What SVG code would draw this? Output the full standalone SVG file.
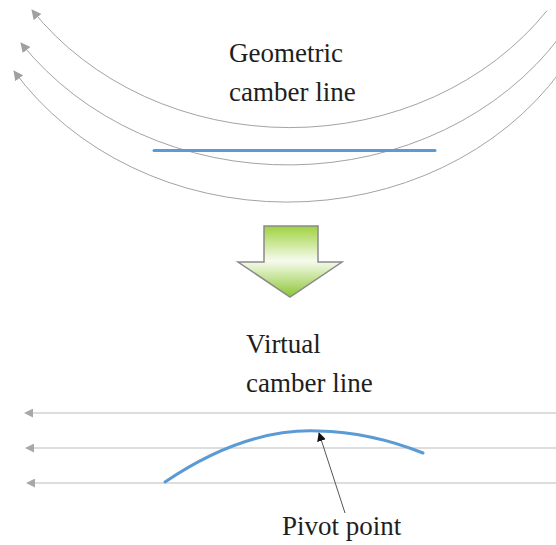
<svg xmlns="http://www.w3.org/2000/svg" width="556" height="545" viewBox="0 0 556 545">
  <style>
    .flow { fill: none; stroke: #a3a3a3; stroke-width: 1; }
    .stream { fill: none; stroke: #d2d2d2; stroke-width: 1.6; }
    .camber { fill: none; stroke: #5b9bd5; stroke-width: 3; stroke-linecap: round; }
    .label { font-size: 27px; fill: #1e1e1e; }
    .leader { fill: none; stroke: #555; stroke-width: 1; }
  </style>
  <defs>
    <marker id="grayHead" viewBox="0 0 10 10" refX="9" refY="5" markerWidth="10" markerHeight="10" markerUnits="userSpaceOnUse" orient="auto">
      <path d="M0,0 L10,5 L0,10 Z" fill="#a0a0a0"/>
    </marker>
    <marker id="lineHead" viewBox="0 0 10 10" refX="9" refY="5" markerWidth="9" markerHeight="9" markerUnits="userSpaceOnUse" orient="auto">
      <path d="M0,0 L10,5 L0,10 Z" fill="#a8a8a8"/>
    </marker>
    <marker id="blackHead" viewBox="0 0 10 10" refX="9" refY="5" markerWidth="9" markerHeight="9" markerUnits="userSpaceOnUse" orient="auto">
      <path d="M0,0 L10,5 L0,10 Z" fill="#111"/>
    </marker>
    <linearGradient id="greenFade" gradientUnits="userSpaceOnUse" x1="0" y1="225" x2="0" y2="297">
      <stop offset="0" stop-color="#9dd13a"/>
      <stop offset="0.5" stop-color="#f7fbee"/>
      <stop offset="1" stop-color="#8cc633"/>
    </linearGradient>
  </defs>

  <!-- curved incoming flow around the geometric camber line -->
  <g id="curved-flow">
    <path class="flow" d="M547,10.6 A315,276.6 0 0 1 32,10" marker-end="url(#grayHead)"/>
    <path class="flow" d="M560,36.6 A326,286 0 0 1 21,43" marker-end="url(#grayHead)"/>
    <path class="flow" d="M560,72 A325,285.5 0 0 1 14,71" marker-end="url(#grayHead)"/>
  </g>

  <g id="geometric-camber">
    <line class="camber" x1="154" y1="150.5" x2="435" y2="150.5" stroke-linecap="butt"/>
  </g>

  <g id="geometric-label" font-family="'Liberation Serif', 'Times New Roman', Times, 'DejaVu Serif', serif">
    <text class="label" x="229" y="62">Geometric</text>
    <text class="label" x="229" y="101">camber line</text>
  </g>

  <!-- transformation arrow -->
  <g id="transform-arrow">
    <path d="M264,226 L318,226 L318,262 L342,262 L290,297 L238,262 L264,262 Z" fill="url(#greenFade)" stroke="#8a8a8a" stroke-width="1.5" stroke-linejoin="miter"/>
  </g>

  <g id="virtual-label" font-family="'Liberation Serif', 'Times New Roman', Times, 'DejaVu Serif', serif">
    <text class="label" x="246" y="353">Virtual</text>
    <text class="label" x="246" y="392">camber line</text>
  </g>

  <!-- straight flow seen by the virtual camber line -->
  <g id="straight-flow">
    <line class="stream" x1="556" y1="413" x2="25" y2="413" marker-end="url(#lineHead)"/>
    <line class="stream" x1="556" y1="448" x2="26" y2="448" marker-end="url(#lineHead)"/>
    <line class="stream" x1="556" y1="483" x2="27" y2="483" marker-end="url(#lineHead)"/>
  </g>

  <g id="virtual-camber">
    <path class="camber" d="M165,482 Q245,428 318,431 Q370,432 423,453"/>
  </g>

  <g id="connectors">
    <line class="leader" x1="345" y1="513" x2="319" y2="433" marker-end="url(#blackHead)"/>
  </g>

  <g id="pivot-label" font-family="'Liberation Serif', 'Times New Roman', Times, 'DejaVu Serif', serif">
    <text class="label" x="282" y="535">Pivot point</text>
  </g>
</svg>
